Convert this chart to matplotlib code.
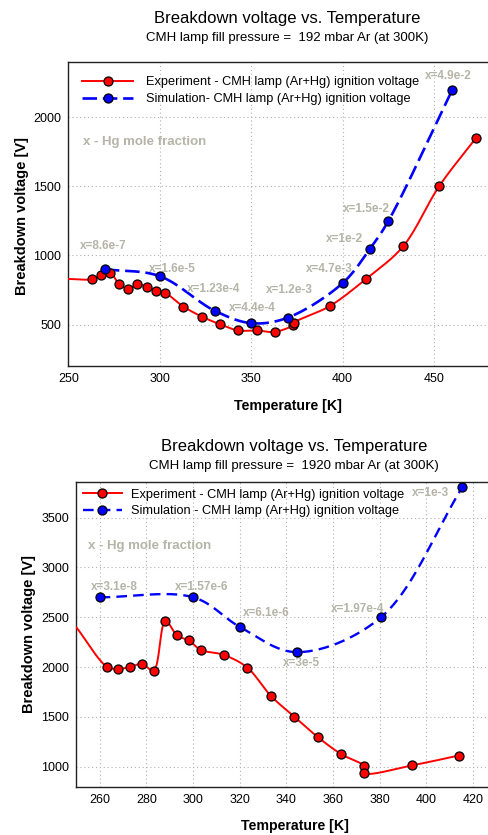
import numpy as np
import matplotlib
matplotlib.use("Agg")
import matplotlib.pyplot as plt
from matplotlib.lines import Line2D

plt.rcParams['font.family'] = ['Liberation Sans', 'DejaVu Sans']

# ---------------- data: 192 mbar ----------------
exp1_T = [262.8, 267.8, 272.9, 277.8, 282.9, 287.8, 292.9, 297.8, 302.9, 312.9,
          322.9, 332.9, 342.9, 352.9, 362.9, 373.0, 373.3, 392.9, 413.0, 433.0, 452.8, 473.0]
exp1_V = [828, 857, 874, 794, 758, 792, 772, 743, 729, 630,
          558, 502, 457, 457, 447, 497, 512, 633, 833, 1065, 1502, 1852]
exp1_lead = (250, 830)          # curve start at the left edge (no marker)
sim1_T = [270, 300, 330, 350, 370, 400, 415, 425, 460]
sim1_V = [900, 850, 600, 510, 550, 800, 1050, 1250, 2200]
sim1_lbl = ["x=8.6e-7", "x=1.6e-5", "x=1.23e-4", "x=4.4e-4", "x=1.2e-3",
            "x=4.7e-3", "x=1e-2", "x=1.5e-2", "x=4.9e-2"]
sim1_lbl_pos = [(269.2, 1070), (306.8, 900), (329.4, 756), (350.7, 620), (370.9, 749),
                (392.7, 900), (400.9, 1116), (413.1, 1333), (457.8, 2300)]

# ---------------- data: 1920 mbar ----------------
exp2_T = [263.2, 268.0, 273.0, 278.2, 283.1, 288.2, 293.2, 298.3, 303.3, 313.1,
          323.3, 333.3, 343.4, 353.4, 363.5, 373.5, 373.5, 393.9, 413.9]
exp2_V = [2003, 1983, 2000, 2033, 1963, 2463, 2317, 2267, 2173, 2123,
          1995, 1713, 1503, 1300, 1127, 1003, 937, 1013, 1113]
exp2_lead = (250, 2400)
sim2_T = [260, 300.2, 320.3, 344.4, 380.6, 415.5]
sim2_V = [2700, 2700, 2400, 2150, 2500, 3805]
sim2_lbl = ["x=3.1e-8", "x=1.57e-6", "x=6.1e-6", "x=3e-5", "x=1.97e-4", "x=1e-3"]
sim2_lbl_pos = [(266.3, 2800), (303.5, 2800), (331.3, 2546), (346.4, 2046),
                (370.4, 2583), (401.7, 3750)]

W, H = 489, 835
fig = plt.figure(figsize=(W / 100, H / 100), dpi=100)


def fx(px):
    return px / W


def fy(py):
    return 1 - py / H


def cr_curve(ax, xs, ys, n=30, alpha=0.5):
    pts = ax.transData.transform(np.column_stack([xs, ys]))
    P = np.vstack([2 * pts[0] - pts[1], pts, 2 * pts[-1] - pts[-2]])
    out = []
    for i in range(1, len(P) - 2):
        p0, p1, p2, p3 = P[i - 1:i + 3]
        t0 = 0.0
        t1 = t0 + max(np.linalg.norm(p1 - p0), 1e-6) ** alpha
        t2 = t1 + max(np.linalg.norm(p2 - p1), 1e-6) ** alpha
        t3 = t2 + max(np.linalg.norm(p3 - p2), 1e-6) ** alpha
        t = np.linspace(t1, t2, n)[:, None]
        A1 = (t1 - t) / (t1 - t0) * p0 + (t - t0) / (t1 - t0) * p1
        A2 = (t2 - t) / (t2 - t1) * p1 + (t - t1) / (t2 - t1) * p2
        A3 = (t3 - t) / (t3 - t2) * p2 + (t - t2) / (t3 - t2) * p3
        B1 = (t2 - t) / (t2 - t0) * A1 + (t - t0) / (t2 - t0) * A2
        B2 = (t3 - t) / (t3 - t1) * A2 + (t - t1) / (t3 - t1) * A3
        C = (t2 - t) / (t2 - t1) * B1 + (t - t1) / (t2 - t1) * B2
        out.append(C)
    res = ax.transData.inverted().transform(np.vstack(out))
    return res[:, 0], res[:, 1]


LBL_COLOR = '#b4b4a8'


def setup_axes(rect, xlim, ylim, xticks, yticks):
    ax = fig.add_axes(rect)
    ax.set_xlim(*xlim)
    ax.set_ylim(*ylim)
    ax.set_xticks(xticks)
    ax.set_yticks(yticks)
    ax.grid(True, linestyle=(0, (1, 2.5)), color='#b0b0b0', linewidth=0.8)
    ax.set_axisbelow(True)
    ax.tick_params(length=0, labelsize=9, pad=5)
    for s in ['left', 'bottom', 'top']:
        ax.spines[s].set_linewidth(1.0)
        ax.spines[s].set_color('#222222')
    ax.spines['right'].set_visible(False)
    return ax


def draw(ax, eT, eV, lead, sT, sV, dash, slw):
    ex, ey = cr_curve(ax, [lead[0]] + eT, [lead[1]] + eV)
    ax.plot(ex, ey, color='red', lw=1.4, zorder=3, solid_capstyle='round')
    sx, sy = cr_curve(ax, sT, sV)
    ax.plot(sx, sy, color='blue', lw=slw, linestyle=dash, zorder=3)
    ax.plot(eT, eV, linestyle='none', marker='o', ms=6.5, mfc='red', mec='black',
            mew=0.9, zorder=5)
    ax.plot(sT, sV, linestyle='none', marker='o', ms=6.5, mfc='blue', mec='black',
            mew=0.9, zorder=5)


# ---------------- top chart ----------------
ax1 = setup_axes([fx(68.3), fy(366), 1 - fx(68.3), (366 - 62) / H],
                 (250, 480), (200, 2400), [250, 300, 350, 400, 450], [500, 1000, 1500, 2000])
fig.canvas.draw()
dash1 = (0, (5.5, 2.2))
draw(ax1, exp1_T, exp1_V, exp1_lead, sim1_T, sim1_V, dash1, 1.9)
for lbl, (tx, ty) in zip(sim1_lbl, sim1_lbl_pos):
    ax1.text(tx, ty, lbl, color=LBL_COLOR, fontsize=8.5, fontweight='bold',
             ha='center', va='center', zorder=4)
ax1.text(258, 1823, "x - Hg mole fraction", color=LBL_COLOR, fontsize=9.5,
         fontweight='bold', ha='left', va='center')
h1 = [Line2D([], [], color='red', lw=1.4, marker='o', ms=6.5, mfc='red', mec='black', mew=0.9),
      Line2D([], [], color='blue', lw=1.9, linestyle=dash1, marker='o', ms=6.5, mfc='blue',
             mec='black', mew=0.9)]
ax1.legend(h1, ["Experiment - CMH lamp (Ar+Hg) ignition voltage",
                "Simulation- CMH lamp (Ar+Hg) ignition voltage"],
           loc='upper left', bbox_to_anchor=(0.0, 1.0), frameon=False, fontsize=9.2,
           handlelength=4.0, handletextpad=1.0, labelspacing=0.4, borderaxespad=0.7)

fig.text(fx(287), fy(18), "Breakdown voltage vs. Temperature", fontsize=12,
         ha='center', va='center')
fig.text(fx(287), fy(38), "CMH lamp fill pressure =  192 mbar Ar (at 300K)", fontsize=9.5,
         ha='center', va='center')
fig.text(fx(288), fy(406), "Temperature [K]", fontsize=10.2, fontweight='bold',
         ha='center', va='center')
fig.text(fx(22), fy(216), "Breakdown voltage [V]", fontsize=10.5, fontweight='bold',
         ha='center', va='center', rotation=90)

# ---------------- bottom chart ----------------
ax2 = setup_axes([fx(76.3), fy(786.7), 1 - fx(76.3), (786.7 - 481.7) / H],
                 (250, 426.9), (800, 3860), list(range(260, 421, 20)),
                 [1000, 1500, 2000, 2500, 3000, 3500])
fig.canvas.draw()
dash2 = (0, (4.5, 2.6))
draw(ax2, exp2_T, exp2_V, exp2_lead, sim2_T, sim2_V, dash2, 1.7)
for lbl, (tx, ty) in zip(sim2_lbl, sim2_lbl_pos):
    ax2.text(tx, ty, lbl, color=LBL_COLOR, fontsize=8.5, fontweight='bold',
             ha='center', va='center', zorder=4)
ax2.text(255, 3210, "x - Hg mole fraction", color=LBL_COLOR, fontsize=9.5,
         fontweight='bold', ha='left', va='center')
h2 = [Line2D([], [], color='red', lw=1.4, marker='o', ms=6.5, mfc='red', mec='black', mew=0.9),
      Line2D([], [], color='blue', lw=1.7, linestyle=dash2, marker='o', ms=6.5, mfc='blue',
             mec='black', mew=0.9)]
ax2.legend(h2, ["Experiment - CMH lamp (Ar+Hg) ignition voltage",
                "Simulation - CMH lamp (Ar+Hg) ignition voltage"],
           loc='upper left', bbox_to_anchor=(0.0, 1.0), frameon=False, fontsize=9.2,
           handlelength=3.0, handletextpad=0.7, labelspacing=0.35, borderaxespad=0.15)

fig.text(fx(294), fy(446), "Breakdown voltage vs. Temperature", fontsize=12,
         ha='center', va='center')
fig.text(fx(294), fy(465.7), "CMH lamp fill pressure =  1920 mbar Ar (at 300K)", fontsize=9.5,
         ha='center', va='center')
fig.text(fx(295), fy(825.7), "Temperature [K]", fontsize=10.2, fontweight='bold',
         ha='center', va='center')
fig.text(fx(29), fy(634), "Breakdown voltage [V]", fontsize=10.5, fontweight='bold',
         ha='center', va='center', rotation=90)

fig.savefig("out.png", dpi=100)
